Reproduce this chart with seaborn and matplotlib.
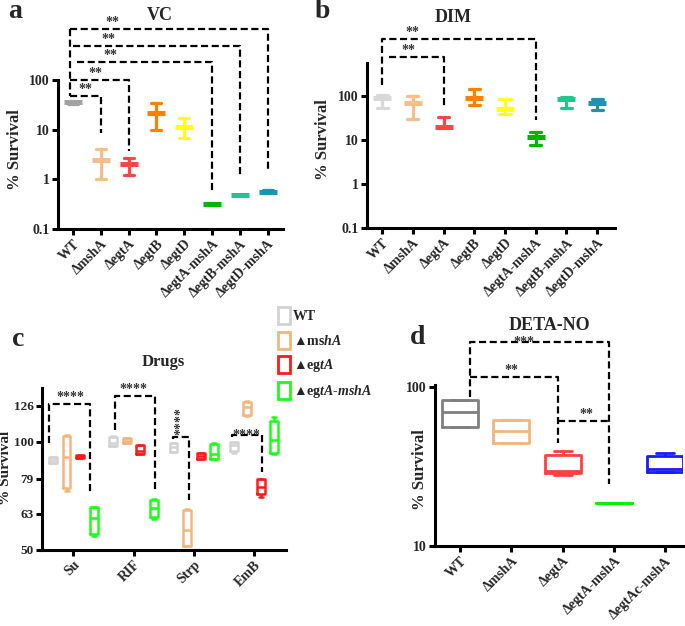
import numpy as np
import pandas as pd
import matplotlib
matplotlib.use("Agg")
import matplotlib.pyplot as plt
import seaborn as sns
from matplotlib.patches import Rectangle
from matplotlib.ticker import FixedLocator, NullLocator, FixedFormatter

sns.set_style("ticks")
plt.rcParams['font.family'] = ['Liberation Serif', 'DejaVu Sans']
plt.rcParams['font.weight'] = 'bold'
plt.rcParams['axes.labelweight'] = 'bold'
plt.rcParams['mathtext.fontset'] = 'custom'
plt.rcParams['mathtext.it'] = 'Liberation Serif:italic:bold'
plt.rcParams['mathtext.rm'] = 'Liberation Serif:bold'
plt.rcParams['mathtext.bf'] = 'Liberation Serif:bold'

# ---------------- data ----------------
ab_strains = ["WT", "ΔmshA", "ΔegtA", "ΔegtB", "ΔegtD",
              "ΔegtA-mshA", "ΔegtB-mshA", "ΔegtD-mshA"]
# replicate values (min, middle, max) per strain
vc_values = [[33, 36, 38], [1.0, 2.45, 4.1], [1.23, 2.0, 2.7], [9.8, 21.5, 34],
             [6.8, 11.3, 17], [0.30, 0.32, 0.34], [0.48, 0.48, 0.48], [0.52, 0.56, 0.62]]
dim_values = [[53, 89, 105], [30, 69, 100], [20, 20, 33], [63, 90, 145],
              [39, 50, 84], [7.5, 11.5, 15.5], [54, 86, 93], [48, 69, 86]]
vc_colors = ["#a3a3a3", "#f5be8a", "#ff4545", "#ff8000", "#ffff1a",
             "#00b400", "#1ec88c", "#1a96b4"]
dim_colors = ["#d8d8d8", "#f5be8a", "#ff4545", "#ff8000", "#ffff1a",
              "#00b400", "#1ec88c", "#1a96b4"]
ab_yticks = [0.1, 1, 10, 100]
ab_yticklabels = ["0.1", "1", "10", "100"]

drugs = ["Su", "RIF", "Strp", "EmB"]
c_strains = ["WT", "ΔmshA", "ΔegtA", "ΔegtA-mshA"]
c_colors = ["#d3d3d3", "#f5b57a", "#ff1a1a", "#1aff1a"]
# five-number values per strain: [low, q1, median, q3, high]
su_values = [[87.3, 87.3, 88.9, 90.4, 90.4], [73.1, 74.2, 90.8, 103.9, 104.5],
             [89.9, 89.9, 90.7, 91.8, 91.8], [54.7, 55.3, 61.2, 65.9, 65.9]]
rif_values = [[97.3, 97.3, 99.4, 103.3, 104.0], [98.9, 98.9, 100.5, 102.1, 102.1],
              [92.2, 92.5, 94.4, 97.9, 97.9], [60.8, 61.7, 65.3, 68.9, 69.4]]
strp_values = [[93.7, 93.7, 96.5, 99.3, 99.3], [51.3, 51.3, 56.9, 64.5, 65.0],
               [89.4, 89.6, 91.2, 92.9, 92.9], [89.6, 89.6, 92.3, 98.4, 99.4]]
emb_values = [[93.0, 94.2, 97.9, 100.0, 100.0], [117.5, 118.6, 125.0, 129.0, 130.0],
              [70.3, 71.6, 75.0, 78.6, 78.6], [92.6, 92.9, 101.0, 114.2, 117.2]]
c_yticks = [50, 63, 79, 100, 126]
c_yticklabels = ["50", "63", "79", "100", "126"]
legend_labels = ["WT", "▲ms$hA$", "▲eg$tA$", "▲eg$tA$-$mshA$"]

d_strains = ["WT", "ΔmshA", "ΔegtA", "ΔegtA-mshA", "ΔegtAc-mshA"]
d_colors = ["#808080", "#f5b57a", "#ff4040", "#00f000", "#1a1aff"]
d_values = [[55.9, 55.9, 69.3, 82.8, 82.8], [44.6, 44.6, 53.0, 62.0, 62.0],
            [28.1, 28.6, 29.5, 37.3, 39.5], [18.7, 18.7, 18.7, 18.7, 18.7],
            [29.0, 29.0, 30.3, 37.0, 38.3]]
d_yticks = [10, 100]
d_yticklabels = ["10", "100"]

# significance brackets: polylines in data coords + star labels
a_brackets = [[(-0.1, 1050), (-0.1, 47.6)],
              [(-0.1, 47.6), (1, 47.6), (1, 8.5)],
              [(-0.1, 100), (2, 100), (2, 3.8)],
              [(0.15, 233), (5, 233), (5, 0.56)],
              [(0.0, 490), (6, 490), (6, 1.22)],
              [(-0.1, 1050), (7, 1050), (7, 1.54)]]
a_stars = [(0.43, 47.6, "**"), (0.79, 100, "**"), (1.33, 233, "**"),
           (1.26, 490, "**"), (1.4, 1050, "**")]
b_brackets = [[(0, 178), (0, 1990), (5, 1990), (5, 28)],
              [(0.23, 769), (2, 769), (2, 54)]]
b_stars = [(1.0, 1990, "**"), (0.85, 769, "**")]
c_brackets = [[(-0.41, 99.2), (-0.41, 127.2), (0.27, 127.2), (0.27, 71.6)],
              [(0.69, 107.6), (0.69, 134), (1.35, 134), (1.35, 73.5)],
              [(1.65, 102), (1.65, 103), (1.92, 103), (1.92, 68.9)],
              [(2.64, 103), (2.64, 104.2), (3.13, 104.2), (3.13, 82.4)]]
d_brackets = [[(0.2, 86.5), (0.2, 192), (2.9, 192), (2.9, 24.5)],
              [(0.2, 115.6), (1.92, 115.6), (1.92, 44.5)],
              [(1.92, 61), (2.9, 61)]]
d_stars = [(1.0, 115.6, "**"), (2.47, 61, "**")]

# ---------------- figure ----------------
W, H = 685, 626
fig = plt.figure(figsize=(W / 100, H / 100), dpi=100)


def ax_px(left, right, top, bottom):
    return fig.add_axes([left / W, 1 - bottom / H, (right - left) / W, (bottom - top) / H])


ax_a = ax_px(58, 283, 80, 229)
ax_b = ax_px(367, 615, 63, 228)
ax_c = ax_px(42, 286, 388, 550)
ax_d = ax_px(435, 683, 385, 546)

SPINE_W = 2.2
TICK_FS = 10


def style(ax):
    sns.despine(ax=ax)
    for s in ("left", "bottom"):
        ax.spines[s].set_linewidth(SPINE_W)
        ax.spines[s].set_color("black")
    ax.tick_params(axis="both", which="major", width=SPINE_W, length=4,
                   color="black", labelsize=TICK_FS, pad=2)
    ax.set_xlabel("")


def spread(v):
    return (np.min(v), np.max(v))


def draw_brackets(ax, brackets):
    for pts in brackets:
        xs, ys = zip(*pts)
        ax.plot(xs, ys, color="black", lw=1.6, dashes=(3.2, 1.6), clip_on=False,
                solid_capstyle="butt", dash_capstyle="butt")


def draw_stars(ax, stars, fs=10, va="bottom"):
    for x, y, s in stars:
        ax.text(x, y, s, ha="center", va=va, fontsize=fs, color="#333333",
                clip_on=False)


def point_panel(ax, values, colors, ylim, xlim):
    df = pd.DataFrame([(s, v) for s, vals in zip(ab_strains, values) for v in vals],
                      columns=["strain", "survival"])
    ax.set_yscale("log")
    sns.pointplot(data=df, x="strain", y="survival", hue="strain",
                  order=ab_strains, hue_order=ab_strains, palette=colors,
                  estimator="median", errorbar=spread, capsize=0.36,
                  markers="_", linestyles="none", markersize=13,
                  markeredgewidth=3.6, err_kws={"linewidth": 2.3},
                  legend=False, ax=ax)
    ax.set_ylim(*ylim)
    ax.set_xlim(*xlim)
    ax.yaxis.set_major_locator(FixedLocator(ab_yticks))
    ax.yaxis.set_major_formatter(FixedFormatter(ab_yticklabels))
    ax.yaxis.set_minor_locator(NullLocator())
    style(ax)
    ax.set_ylabel("")
    ax.set_xticks(range(len(ab_strains)))
    ax.set_xticklabels(ab_strains, rotation=45, ha="right", rotation_mode="anchor",
                       fontsize=TICK_FS)


# ---- panel a ----
point_panel(ax_a, vc_values, vc_colors, (0.1, 100), (-0.54, 7.55))
draw_brackets(ax_a, a_brackets)
draw_stars(ax_a, a_stars)

# ---- panel b ----
point_panel(ax_b, dim_values, dim_colors, (0.1, 562), (-0.49, 7.58))
draw_brackets(ax_b, b_brackets)
draw_stars(ax_b, b_stars)

# ---- panel c ----
rows = []
for drug, vals in zip(drugs, [su_values, rif_values, strp_values, emb_values]):
    for strain, five in zip(c_strains, vals):
        for v in five:
            rows.append((drug, strain, v))
df_c = pd.DataFrame(rows, columns=["drug", "strain", "survival"])
ax_c.set_yscale("log")
sns.boxplot(data=df_c, x="drug", y="survival", hue="strain", order=drugs,
            hue_order=c_strains, palette=c_colors, fill=False, width=0.9,
            gap=0.42, whis=(0, 100), linewidth=1.8, legend=False, ax=ax_c)
ax_c.set_ylim(50, 141)
ax_c.set_xlim(-0.52, 3.53)
ax_c.yaxis.set_major_locator(FixedLocator(c_yticks))
ax_c.yaxis.set_major_formatter(FixedFormatter(c_yticklabels))
ax_c.yaxis.set_minor_locator(NullLocator())
style(ax_c)
ax_c.tick_params(axis="y", labelsize=9.5)
ax_c.set_ylabel("")
ax_c.set_xticks(range(len(drugs)))
ax_c.set_xticklabels(drugs, rotation=45, ha="right", rotation_mode="anchor",
                     fontsize=TICK_FS)
draw_brackets(ax_c, c_brackets)
draw_stars(ax_c, [(-0.05, 127.2, "****"), (1.0, 134, "****")])
ax_c.text(-0.05 + 1.84, 114, "****", rotation=90, ha="center", va="center",
          fontsize=10, color="#333333")
ax_c.text(2.88, 104.2, "****", ha="center", va="center", fontsize=10, color="#333333")

# legend for panel c
handles = [Rectangle((0, 0), 1, 1, facecolor="white", edgecolor=c, linewidth=2)
           for c in c_colors]
fig.legend(handles, legend_labels, loc="upper left",
           bbox_to_anchor=(278 / W, 1 - 307 / H), frameon=False,
           handlelength=0.85, handleheight=1.5, handletextpad=0.25,
           labelspacing=0.55, borderaxespad=0, borderpad=0,
           prop={"family": ["Liberation Serif", "DejaVu Sans"], "weight": "bold",
                 "size": 10})

# ---- panel d ----
df_d = pd.DataFrame([(s, v) for s, vals in zip(d_strains, d_values) for v in vals],
                    columns=["strain", "survival"])
ax_d.set_yscale("log")
sns.boxplot(data=df_d, x="strain", y="survival", hue="strain", order=d_strains,
            hue_order=d_strains, palette=d_colors, fill=False, width=0.7,
            whis=(0, 100), linewidth=2.0, legend=False, ax=ax_d)
ax_d.set_ylim(10, 103)
ax_d.set_xlim(-0.49, 4.35)
ax_d.yaxis.set_major_locator(FixedLocator(d_yticks))
ax_d.yaxis.set_major_formatter(FixedFormatter(d_yticklabels))
ax_d.yaxis.set_minor_locator(NullLocator())
style(ax_d)
ax_d.set_ylabel("")
ax_d.set_xticks(range(len(d_strains)))
ax_d.set_xticklabels(d_strains, rotation=45, ha="right", rotation_mode="anchor",
                     fontsize=TICK_FS)
draw_brackets(ax_d, d_brackets)
draw_stars(ax_d, d_stars)
ax_d.text(1.24, 192, "***", ha="center", va="center", fontsize=10,
          color="#333333", clip_on=False)

# ---- labels / titles ----
def ftext(x, y, s, **kw):
    fig.text(x / W, 1 - y / H, s, **kw)


for x, y, s, fs in [(15, 150, "% Survival", 12), (323, 140, "% Survival", 12),
                    (6, 468, "% Survival", 11), (420, 470, "% Survival", 12)]:
    ftext(x, y, s, rotation=90, ha="center", va="center", fontsize=fs,
          fontweight="bold")

ftext(160, 16, "VC", ha="center", va="center", fontsize=13, fontweight="bold")
ftext(453, 17, "DIM", ha="center", va="center", fontsize=13, fontweight="bold")
ftext(163, 362, "Drugs", ha="center", va="center", fontsize=12, fontweight="bold")
ftext(549, 326, "DETA-NO", ha="center", va="center", fontsize=13, fontweight="bold")

for x, y, s in [(15, 12, "a"), (322, 12, "b"), (18, 339, "c"), (418, 338, "d")]:
    ftext(x, y, s, ha="center", va="center", fontsize=20, fontweight="bold")

fig.savefig("out.png", dpi=100)
